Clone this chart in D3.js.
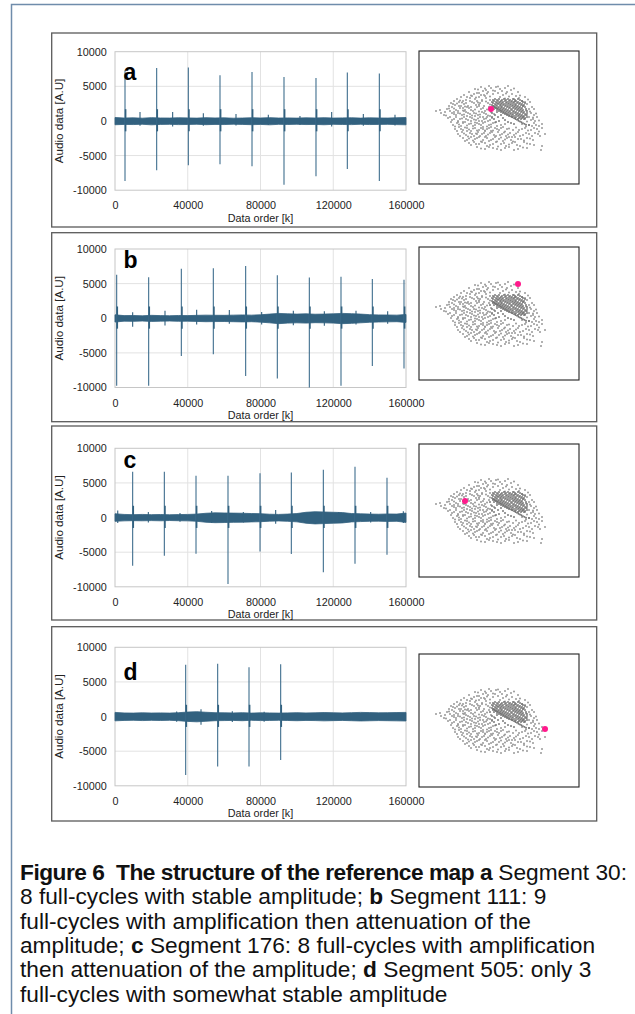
<!DOCTYPE html>
<html>
<head>
<meta charset="utf-8">
<script src="https://cdn.jsdelivr.net/npm/d3@7"></script>
<style>
  body { margin: 0; background: #fff; }
  text { font-family: "Liberation Sans", Arial, sans-serif; }
</style>
</head>
<body>
<script>
// ---- data ----
const xTicks = [0, 40000, 80000, 120000, 160000];
const yTicks = [-10000, -5000, 0, 5000, 10000];
const panelLetters = ['a', 'b', 'c', 'd'];

// noise band sampled every 5000 data points
const noiseX = [0, 5000, 10000, 15000, 20000, 25000, 30000, 35000, 40000, 45000, 50000,
  55000, 60000, 65000, 70000, 75000, 80000, 85000, 90000, 95000, 100000, 105000, 110000,
  115000, 120000, 125000, 130000, 135000, 140000, 145000, 150000, 155000, 160000];

const aNoiseTop = [500, 420, 450, 400, 480, 430, 420, 460, 440, 410, 470, 430, 450, 400, 420, 460, 430,
  480, 420, 440, 410, 450, 430, 470, 420, 440, 460, 410, 450, 430, 420, 460, 500];
const aNoiseBot = [-550, -500, -520, -480, -560, -500, -490, -530, -510, -480, -540, -500, -520, -470, -500, -540, -500,
  -560, -490, -510, -480, -520, -500, -550, -490, -510, -530, -480, -520, -500, -490, -530, -560];
const bNoiseTop = [500, 380, 400, 350, 420, 380, 360, 400, 380, 420, 450, 430, 420, 450, 480, 450, 500,
  600, 700, 640, 600, 640, 580, 600, 640, 700, 660, 600, 520, 480, 470, 450, 550];
const bNoiseBot = [-550, -420, -450, -400, -460, -420, -400, -440, -420, -460, -500, -480, -470, -500, -530, -500, -560,
  -660, -780, -700, -660, -700, -640, -660, -700, -780, -740, -660, -580, -540, -520, -500, -600];
const cNoiseTop = [550, 450, 420, 450, 420, 440, 400, 430, 450, 500, 620, 680, 660, 640, 620, 580, 560,
  480, 450, 500, 580, 760, 840, 800, 760, 720, 580, 540, 500, 480, 520, 500, 650];
const cNoiseBot = [-550, -480, -450, -470, -440, -470, -430, -460, -480, -540, -680, -740, -720, -690, -670, -630, -600,
  -520, -490, -540, -620, -820, -920, -870, -820, -780, -630, -580, -540, -520, -560, -540, -700];
const dNoiseTop = [600, 520, 500, 540, 510, 530, 500, 560, 650, 700, 620, 560, 540, 520, 560, 500, 540,
  520, 500, 530, 560, 520, 540, 580, 550, 520, 560, 600, 570, 540, 560, 580, 600];
const dNoiseBot = [-620, -560, -540, -580, -550, -570, -540, -600, -700, -760, -680, -600, -580, -560, -600, -540, -580,
  -560, -540, -570, -600, -560, -580, -620, -590, -560, -600, -640, -610, -580, -600, -620, -640];

// main cycle spikes
const aSpikeX = [5500, 22910, 40320, 57730, 75330, 92920, 110510, 127740, 145340];
const aSpikeTop = [7300, 7660, 7710, 6600, 7080, 6360, 6220, 6990, 6840];
const aSpikeBot = [-8680, -7130, -6410, -6270, -6550, -9200, -8000, -6940, -8670];
const bSpikeX = [920, 18510, 36470, 54060, 71840, 89250, 106850, 124260, 141490, 158900];
const bSpikeTop = [6270, 5930, 7130, 7220, 7560, 6220, 5890, 5980, 5650, 5550];
const bSpikeBot = [-9760, -9760, -5450, -5210, -8330, -8710, -10000, -9760, -6890, -7270];
const cSpikeX = [9710, 27130, 44540, 62130, 79730, 96950, 114550, 131960, 149550];
const cSpikeTop = [6620, 6620, 6040, 6040, 6380, 6520, 6910, 7340, 5760];
const cSpikeBot = [-6950, -5520, -5230, -9590, -4890, -5280, -7910, -6670, -5370];
const dSpikeX = [38860, 56450, 73680, 91090];
const dSpikeTop = [7470, 7610, 7130, 7570];
const dSpikeBot = [-8430, -7230, -7230, -6270];

// small half-cycle blips
const aBlipX = [13750, 31700, 48570, 66530, 84300, 101700, 119130, 136540, 153950];
const aBlipTop = [1300, 1300, 1100, 1000, 900, 700, 1300, 1000, 900];
const aBlipBot = [-700, -800, -700, -650, -600, -600, -800, -700, -650];
const bBlipX = [9710, 27490, 44900, 62860, 80640, 98050, 115100, 132510, 149920];
const bBlipTop = [860, 1100, 1240, 1200, 900, 1100, 1000, 1100, 1000];
const bBlipBot = [-1240, -1050, -900, -800, -900, -1000, -1100, -900, -800];
const cBlipX = [1500, 18330, 35740, 53150, 70560, 88340, 105600, 123000, 140570, 158530];
const cBlipTop = [1000, 800, 650, 960, 800, 1100, 700, 800, 800, 900];
const cBlipBot = [-800, -700, -600, -800, -700, -900, -700, -700, -700, -800];
const dBlipX = [33900, 47290, 64500, 82000];
const dBlipTop = [720, 1060, 750, 700];
const dBlipBot = [-750, -1200, -800, -750];

// reference map (map units, origin top-left), sparse points as x,y pairs
const cloudSparse = [
  56,38, 62,36, 67,39, 72,37, 77,36, 81,38, 86,37, 92,39, 70,35, 64,40, 89,35,
  45,44, 50,41, 55,43, 60,42, 65,44, 69,41, 74,43, 79,42, 84,44, 88,41, 93,43, 97,45, 53,45, 76,40, 99,41,
  38,48, 42,46, 47,49, 51,47, 56,48, 60,46, 63,49, 67,47, 71,49, 95,48, 100,47, 103,50, 44,50, 58,50, 66,45, 106,46,
  32,52, 36,54, 40,51, 45,53, 49,55, 53,51, 57,54, 61,52, 65,55, 69,52, 108,53, 104,55, 111,51, 42,55, 55,52, 63,50,
  28,58, 33,56, 37,59, 41,57, 46,59, 50,57, 54,60, 58,56, 62,58, 66,60, 70,56, 110,58, 113,56, 39,60, 48,56,
  17,60, 31,60, 35,63, 39,62, 43,64, 47,61, 51,63, 55,62, 59,64, 63,61, 67,63, 71,65, 112,62, 115,64, 108,64, 45,60,
  29,67, 33,69, 37,66, 41,68, 45,66, 49,69, 53,67, 57,69, 61,66, 65,68, 69,70, 73,67, 106,68, 112,69, 118,66, 116,70,
  32,71, 34,74, 38,72, 42,75, 46,71, 50,73, 54,75, 58,72, 62,74, 66,71, 70,74, 74,72, 78,75, 103,73, 110,74, 115,72, 120,75,
  36,78, 40,76, 44,79, 48,77, 52,80, 56,77, 60,79, 64,76, 68,78, 72,80, 76,77, 80,79, 84,76, 88,78, 100,79, 106,77, 112,79, 118,78, 123,77,
  39,83, 43,81, 47,84, 51,82, 55,85, 59,81, 63,83, 67,85, 71,82, 75,84, 79,81, 83,83, 87,85, 91,82, 95,84, 99,81, 104,84, 110,83, 116,82, 126,83, 121,85,
  44,87, 48,89, 52,86, 56,88, 60,86, 64,89, 68,87, 72,89, 76,86, 80,88, 84,90, 88,87, 92,89, 96,86, 102,88, 108,87, 114,89,
  50,92, 55,91, 60,93, 66,92, 71,94, 77,91, 82,93, 87,95, 93,92, 98,94, 105,91, 111,93,
  58,96, 66,98, 74,97, 82,99, 90,96, 99,98, 122,99, 108,97,
  44,57, 52,59, 60,55, 48,65, 56,65, 64,66, 52,70, 60,70, 68,66, 44,72, 56,74, 64,78, 48,80, 58,83, 66,80, 72,76,
  21,59, 35,61, 39,71, 25,64
];
const cloudSparse2 = [
  59,38.5, 66,37.5, 74,39.5, 83,40, 95,37.5, 79,35.5, 87,42.5, 58,42, 68,42.5,
  48,46, 52,44.5, 57,46.5, 62,44, 71,45.5, 81,46, 86,47.5, 90,45.5, 96,50.5, 101,44.5, 41,49.5, 35,50,
  34,53, 38,52.5, 43,51.5, 47,52, 51,50, 59,51.5, 67,50.5, 71,53.5, 106,51, 109,48.5, 30,55, 46,55.5, 60,53.5,
  26,61, 30,57.5, 35,57.5, 40,55, 44,59.5, 52,56, 56,58.5, 60,60.5, 64,57, 68,58.5, 72,61, 107,59.5, 111,60.5, 115,58, 22,62,
  27,64.5, 33,62, 37,64, 41,62.5, 45,63.5, 49,62, 53,64.5, 57,62.5, 61,63.5, 65,62, 69,64.5, 110,66, 114,66.5, 117,62.5, 75,63,
  31,66, 35,68, 39,70, 43,67.5, 47,68, 51,66, 55,68.5, 59,67.5, 63,70, 67,67.5, 71,69, 108,70.5, 114,68, 120,69.5, 104,66,
  36,75.5, 40,73.5, 44,71, 48,74.5, 52,72.5, 56,71.5, 60,73, 64,72, 68,75.5, 72,73.5, 76,71.5, 82,74, 86,73, 107,75.5, 113,75, 117,74, 123,73,
  38,80, 42,78, 46,76.5, 50,78.5, 54,77.5, 58,79.5, 62,77, 66,79.5, 70,77, 74,79.5, 78,78, 82,77, 86,80.5, 90,77.5, 94,79, 97,76.5, 103,78, 109,79.5, 115,77, 120,80.5,
  41,85, 45,82.5, 49,85.5, 53,83, 57,82.5, 61,85, 65,82, 69,83.5, 73,81, 77,85, 81,84, 85,81.5, 89,83.5, 93,86, 97,82.5, 101,85, 107,82, 113,85, 119,83,
  46,90, 50,87.5, 54,89.5, 58,87, 62,90.5, 66,86, 70,90, 74,88, 78,90.5, 82,86.5, 86,88.5, 90,86, 94,90.5, 99,88, 105,89.5, 111,87.5,
  52,94, 57,93, 63,91, 68,95, 74,93, 79,95.5, 85,92, 90,93.5, 96,91, 101,95, 108,92.5, 115,94,
  62,97.5, 70,96, 78,98, 86,97, 95,99, 104,96.5, 123,95
];
// dense core of the map: row (y) with its x positions
const coreRows = [
  [48, [76, 80, 85, 89, 94, 99]],
  [49, [74, 78, 83, 87, 91, 96, 101]],
  [50, [75, 79, 82, 86, 90, 93, 97, 103]],
  [51, [73, 77, 81, 84, 88, 92, 95, 99, 104]],
  [52, [74, 78, 80, 83, 87, 90, 94, 98, 101, 106]],
  [53, [76, 79, 82, 85, 89, 92, 96, 100, 103]],
  [54, [73, 77, 81, 84, 87, 91, 94, 97, 102, 105]],
  [55, [75, 78, 82, 86, 89, 93, 96, 99, 104]],
  [56, [74, 76, 80, 83, 88, 91, 95, 98, 101, 106]],
  [57, [77, 79, 82, 85, 90, 94, 97, 100, 103]],
  [58, [75, 81, 84, 87, 92, 96, 99, 102, 107]],
  [59, [78, 83, 86, 89, 93, 98, 101, 104]],
  [60, [80, 85, 88, 91, 95, 100, 103, 108]],
  [61, [82, 87, 90, 94, 97, 102, 105]],
  [62, [84, 89, 92, 96, 99, 104, 108]],
  [63, [86, 91, 94, 98, 101, 106]],
  [64, [88, 93, 97, 100, 103, 107]],
  [65, [90, 95, 99, 102, 105]],
  [66, [93, 97, 101, 104, 108]],
  [67, [96, 100, 103, 106]],
  [68, [99, 102, 105]]
];
const coreStreak = [
  74,55, 75.5,56, 77,57, 78.5,57.8, 80,58.6, 81.5,59.5, 83,60.3, 84.5,61.2, 86,62, 87.5,62.9,
  89,63.7, 90.5,64.6, 92,65.4, 93.5,66.3, 95,67.1, 96.5,68, 98,68.8, 99.5,69.7, 101,70.5,
  102.5,71.3, 104,72.1, 105.5,72.9, 107,73.7, 110,74,
  73,62, 76,64, 79,66, 75,68, 80,70, 84,67, 78,61, 82,64, 86,69, 89,71, 92,72, 95,73, 71,58, 73,66, 77,71
];
// position of the current segment on the map
const highlightX = [72, 99, 46, 126];
const highlightY = [58, 37, 57, 75];

const captionLines = [
  [['Figure 6  The structure of the reference map a', true], [' Segment 30:', false]],
  [['8 full-cycles with stable amplitude; ', false], ['b', true], [' Segment 111: 9', false]],
  [['full-cycles with amplification then attenuation of the', false]],
  [['amplitude; ', false], ['c', true], [' Segment 176: 8 full-cycles with amplification', false]],
  [['then attenuation of the amplitude; ', false], ['d', true], [' Segment 505: only 3', false]],
  [['full-cycles with somewhat stable amplitude', false]]
];

// ---- layout ----
const width = 635, height = 1014;
const plotLeft = 115, plotW = 291, plotH = 138.5;
const mapLeft = 419, mapW = 160, mapH = 133;
const layout = [
  {boxTop: 33, boxBottom: 227, plotTop: 51.7, mapTop: 51, letterY: 28},
  {boxTop: 232.7, boxBottom: 421.7, plotTop: 249, mapTop: 247, letterY: 19},
  {boxTop: 426, boxBottom: 620, plotTop: 448.3, mapTop: 444, letterY: 19.4},
  {boxTop: 626.7, boxBottom: 821, plotTop: 647.3, mapTop: 654, letterY: 32.7}
];
const panels = [
  [aNoiseTop, aNoiseBot, aSpikeX, aSpikeTop, aSpikeBot, aBlipX, aBlipTop, aBlipBot],
  [bNoiseTop, bNoiseBot, bSpikeX, bSpikeTop, bSpikeBot, bBlipX, bBlipTop, bBlipBot],
  [cNoiseTop, cNoiseBot, cSpikeX, cSpikeTop, cSpikeBot, cBlipX, cBlipTop, cBlipBot],
  [dNoiseTop, dNoiseBot, dSpikeX, dSpikeTop, dSpikeBot, dBlipX, dBlipTop, dBlipBot]
];
const waveColor = '#32617f';

const svg = d3.select('body').append('svg')
    .attr('width', width)
    .attr('height', height);

// page frame
svg.append('path')
  .attr('d', 'M11.5,1014V4.5H635')
  .attr('fill', 'none')
  .attr('stroke', '#6f8cab')
  .attr('stroke-width', 1.5);

const x = d3.scaleLinear().domain([0, 160000]).range([0, plotW]);
const y = d3.scaleLinear().domain([-10000, 10000]).range([plotH, 0]);
const mx = d3.scaleLinear().domain([0, 160]).range([0, mapW]);
const my = d3.scaleLinear().domain([0, 133]).range([0, mapH]);

const pairs = arr => d3.range(0, arr.length, 2).map(i => [arr[i], arr[i + 1]]);
const sparsePts = pairs(cloudSparse).concat(pairs(cloudSparse2));
const corePts = coreRows.flatMap(([ry, xs]) => xs.map(cx => [cx, ry])).concat(pairs(coreStreak));

panels.forEach((p, k) => {
  const [noiseTop, noiseBot, spikeX, spikeTop, spikeBot, blipX, blipTop, blipBot] = p;
  const L = layout[k];

  svg.append('rect')
    .attr('x', 51.7).attr('y', L.boxTop)
    .attr('width', 545).attr('height', L.boxBottom - L.boxTop)
    .attr('fill', 'none')
    .attr('stroke', '#5a5a5a')
    .attr('stroke-width', 1.3);

  const g = svg.append('g').attr('transform', `translate(${plotLeft},${L.plotTop})`);

  // grid
  g.append('g').selectAll('line').data(xTicks.slice(1, -1)).join('line')
    .attr('x1', d => x(d)).attr('x2', d => x(d))
    .attr('y1', 0).attr('y2', plotH)
    .attr('stroke', '#e2e2e2');
  g.append('g').selectAll('line').data(yTicks.slice(1, -1)).join('line')
    .attr('x1', 0).attr('x2', plotW)
    .attr('y1', d => y(d)).attr('y2', d => y(d))
    .attr('stroke', '#e2e2e2');
  g.append('rect')
    .attr('width', plotW).attr('height', plotH)
    .attr('fill', 'none').attr('stroke', '#c6c6c6');

  // noise band
  const area = d3.area()
    .x((d, i) => x(noiseX[i]))
    .y0(d => y(d[1]))
    .y1(d => y(d[0]));
  g.append('path')
    .datum(d3.zip(noiseTop, noiseBot))
    .attr('d', area)
    .attr('fill', waveColor)
    .attr('stroke', waveColor)
    .attr('stroke-width', 0.8);

  // small blips
  g.append('g').selectAll('line').data(blipX).join('line')
    .attr('x1', d => x(d)).attr('x2', d => x(d))
    .attr('y1', (d, i) => y(blipTop[i])).attr('y2', (d, i) => y(blipBot[i]))
    .attr('stroke', waveColor).attr('stroke-width', 1.1);

  // cycle spikes
  g.append('g').selectAll('line').data(spikeX).join('line')
    .attr('x1', d => x(d)).attr('x2', d => x(d))
    .attr('y1', (d, i) => y(spikeTop[i])).attr('y2', (d, i) => y(spikeBot[i]))
    .attr('stroke', '#3f6e8e').attr('stroke-width', 1.1);
  g.append('g').selectAll('line').data(spikeX).join('line')
    .attr('x1', d => x(d) + 0.6).attr('x2', d => x(d) + 0.6)
    .attr('y1', y(1700)).attr('y2', y(-1500))
    .attr('stroke', waveColor).attr('stroke-width', 1.6);

  // axes
  const xAxis = g.append('g')
    .attr('transform', `translate(0,${plotH})`)
    .call(d3.axisBottom(x).tickValues(xTicks).tickSize(0).tickPadding(11.5).tickFormat(d => String(d)));
  const yAxis = g.append('g')
    .call(d3.axisLeft(y).tickValues(yTicks).tickSize(0).tickPadding(8.3).tickFormat(d => String(d)));
  [xAxis, yAxis].forEach(a => {
    a.select('.domain').remove();
    a.selectAll('text')
      .attr('fill', '#222')
      .style('font-size', '10.8px')
      .style('font-family', '"Liberation Sans", Arial, sans-serif');
  });

  g.append('text')
    .attr('x', plotW / 2).attr('y', plotH + 31.5)
    .attr('text-anchor', 'middle')
    .attr('fill', '#222')
    .style('font-size', '10.8px')
    .text('Data order [k]');
  g.append('text')
    .attr('transform', `translate(${62.5 - plotLeft},${plotH / 2}) rotate(-90)`)
    .attr('text-anchor', 'middle')
    .attr('fill', '#222')
    .style('font-size', '11.6px')
    .text('Audio data [A.U]');
  g.append('text')
    .attr('x', 8.5).attr('y', L.letterY)
    .attr('fill', '#000')
    .style('font-size', '23px')
    .style('font-weight', 'bold')
    .text(panelLetters[k]);

  // reference map
  const m = svg.append('g').attr('transform', `translate(${mapLeft},${L.mapTop})`);
  m.append('rect')
    .attr('width', mapW).attr('height', mapH)
    .attr('fill', '#fff').attr('stroke', '#222').attr('stroke-width', 1.1);
  m.append('g').selectAll('circle').data(sparsePts).join('circle')
    .attr('cx', d => mx(d[0])).attr('cy', d => my(d[1])).attr('r', 1)
    .attr('fill', '#999');
  m.append('g').selectAll('circle').data(corePts).join('circle')
    .attr('cx', d => mx(d[0])).attr('cy', d => my(d[1])).attr('r', 0.95)
    .attr('fill', '#737373');
  m.append('circle')
    .attr('cx', mx(highlightX[k])).attr('cy', my(highlightY[k])).attr('r', 3)
    .attr('fill', '#ff1a8c');
});

// caption
const cap = svg.append('g').attr('transform', 'translate(20,0)');
const lines = cap.selectAll('text').data(captionLines).join('text')
  .attr('x', 0)
  .attr('y', (d, i) => 880 + i * 24.3)
  .attr('fill', '#111')
  .style('white-space', 'pre')
  .style('font-size', '20px');
lines.selectAll('tspan').data(d => d).join('tspan')
  .style('font-weight', d => d[1] ? 'bold' : 'normal')
  .text(d => d[0]);
// size the regular text from the third line, then tighten the bold heading to fit the first
const w3 = lines.filter((d, i) => i === 2).node().getComputedTextLength();
lines.style('font-size', (20 * 511 / w3) + 'px');
const first = lines.filter((d, i) => i === 0);
const w1 = first.node().getComputedTextLength();
const boldChars = captionLines[0][0][0].length;
first.selectAll('tspan').filter(d => d[1])
  .style('letter-spacing', ((607 - w1) / boldChars) + 'px');
</script>
</body>
</html>
